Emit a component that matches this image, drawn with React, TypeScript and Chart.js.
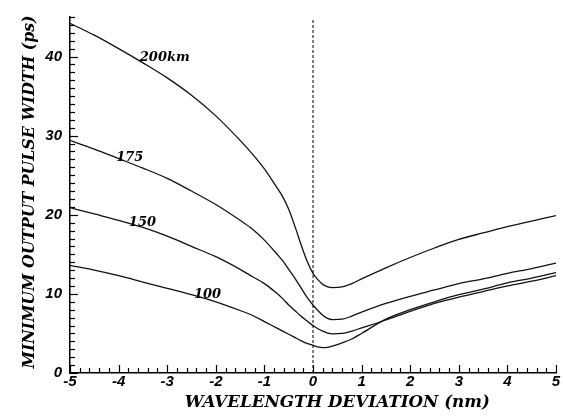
import React, { useEffect, useRef } from "react";
import { Chart, registerables } from "chart.js";

Chart.register(...registerables);

// Wavelength deviation (nm) sample positions shared by all curves
const xGrid = [-5, -4.5, -4, -3.5, -3, -2.5, -2, -1.5, -1.25, -1, -0.75, -0.625, -0.5, -0.375, -0.25, -0.125, 0, 0.1, 0.2, 0.3, 0.4, 0.6, 0.8, 1, 1.5, 2, 2.5, 3, 3.5, 4, 4.5, 5];

// Minimum output pulse width (ps) for each fibre length
const width200 = [44.2, 42.7, 41.0, 39.2, 37.3, 35.1, 32.5, 29.4, 27.7, 25.8, 23.5, 22.3, 20.7, 18.6, 16.3, 14.2, 12.6, 11.8, 11.2, 10.9, 10.8, 10.9, 11.3, 11.9, 13.3, 14.6, 15.8, 16.9, 17.7, 18.5, 19.2, 19.9];
const width175 = [29.4, 28.3, 27.1, 25.9, 24.6, 23.0, 21.3, 19.3, 18.2, 16.8, 15.1, 14.2, 13.1, 12.0, 10.8, 9.6, 8.6, 7.9, 7.3, 6.9, 6.75, 6.8, 7.2, 7.7, 8.8, 9.7, 10.5, 11.3, 11.9, 12.6, 13.2, 13.9];
const width150 = [20.9, 20.1, 19.3, 18.4, 17.3, 16.0, 14.7, 13.1, 12.2, 11.3, 10.1, 9.4, 8.6, 7.9, 7.2, 6.6, 6.0, 5.6, 5.3, 5.05, 4.95, 5.0, 5.3, 5.7, 6.7, 7.8, 8.8, 9.6, 10.3, 11.0, 11.6, 12.3];
const width100 = [13.6, 13.0, 12.3, 11.5, 10.7, 9.9, 9.0, 7.9, 7.3, 6.5, 5.7, 5.3, 4.9, 4.5, 4.1, 3.75, 3.5, 3.3, 3.2, 3.25, 3.4, 3.8, 4.3, 5.0, 6.8, 8.0, 9.0, 9.9, 10.6, 11.4, 12.0, 12.7];

const seriesNames = ["200km", "175", "150", "100"];
const seriesValues = [width200, width175, width150, width100];
// curve label anchor positions (data units)
const labelX = [-3.05, -3.77, -3.51, -2.17];
const labelY = [39.9, 27.2, 19.0, 9.9];

const xTicks = [-5, -4, -3, -2, -1, 0, 1, 2, 3, 4, 5];
const yTicks = [0, 10, 20, 30, 40];
const xTitle = "WAVELENGTH DEVIATION (nm)";
const yTitle = "MINIMUM OUTPUT PULSE WIDTH (ps)";

const decorPlugin = {
  id: "decor",
  afterDatasetsDraw(chart: any) {
    const { ctx, chartArea, scales } = chart;
    const xs = scales.x;
    const ys = scales.y;
    ctx.save();
    ctx.strokeStyle = "#000";
    ctx.fillStyle = "#000";

    // dashed vertical line at zero deviation
    const x0 = xs.getPixelForValue(0);
    ctx.lineWidth = 1;
    ctx.setLineDash([3, 2]);
    ctx.beginPath();
    ctx.moveTo(x0, ys.getPixelForValue(0));
    ctx.lineTo(x0, ys.getPixelForValue(44.7));
    ctx.stroke();
    ctx.setLineDash([]);

    // inward tick marks
    ctx.lineWidth = 1.2;
    const bottom = chartArea.bottom;
    const left = chartArea.left;
    for (let i = -25; i <= 25; i++) {
      const v = i / 5;
      const px = Math.round(xs.getPixelForValue(v)) + 0.5;
      const len = i % 5 === 0 ? 8 : 5;
      ctx.beginPath();
      ctx.moveTo(px, bottom);
      ctx.lineTo(px, bottom - len);
      ctx.stroke();
    }
    for (let v = 0; v <= 45; v++) {
      const py = Math.round(ys.getPixelForValue(v)) + 0.5;
      const len = v % 10 === 0 ? 8 : 5;
      ctx.beginPath();
      ctx.moveTo(left, py);
      ctx.lineTo(left + len, py);
      ctx.stroke();
    }

    // curve labels
    ctx.font = "italic bold 13px 'DejaVu Serif'";
    ctx.textAlign = "center";
    ctx.textBaseline = "middle";
    for (let i = 0; i < seriesNames.length; i++) {
      ctx.fillText(seriesNames[i], xs.getPixelForValue(labelX[i]), ys.getPixelForValue(labelY[i]));
    }

    // axis titles
    ctx.font = "italic bold 17px 'DejaVu Serif'";
    ctx.textAlign = "center";
    ctx.textBaseline = "alphabetic";
    ctx.fillText(xTitle, xs.getPixelForValue(0.5), chart.height - 9, 305);
    ctx.translate(34, (chartArea.top + chartArea.bottom) / 2 - 3);
    ctx.rotate(-Math.PI / 2);
    ctx.fillText(yTitle, 0, 0, 353);
    ctx.restore();
  },
};

export default function App() {
  const canvasRef = useRef<HTMLCanvasElement | null>(null);

  useEffect(() => {
    const canvas = canvasRef.current;
    if (!canvas) return;
    const datasets = seriesNames.map((name, i) => ({
      label: name,
      data: xGrid.map((x, j) => ({ x, y: seriesValues[i][j] })),
      borderColor: "#111",
      borderWidth: 1.3,
      pointRadius: 0,
      fill: false,
      cubicInterpolationMode: "monotone" as const,
    }));
    const tickFont = { family: "'Liberation Sans', Arial, sans-serif", size: 15, style: "italic" as const, weight: "bold" as const };
    const chart = new Chart(canvas, {
      type: "line",
      data: { datasets },
      options: {
        animation: false,
        responsive: false,
        devicePixelRatio: 1,
        layout: { padding: { top: 6, right: 7, left: 0, bottom: 0 } },
        plugins: { legend: { display: false }, tooltip: { enabled: false } },
        scales: {
          x: {
            type: "linear",
            min: -5,
            max: 5,
            grid: { display: false, drawTicks: false },
            border: { display: true, color: "#000", width: 1.5 },
            afterBuildTicks: (s: any) => {
              s.ticks = xTicks.map((v) => ({ value: v }));
            },
            afterFit: (s: any) => {
              s.height = 43;
            },
            ticks: { color: "#000", font: tickFont, padding: 0, autoSkip: false, maxRotation: 0 },
          },
          y: {
            type: "linear",
            min: 0,
            max: 45,
            grid: { display: false, drawTicks: false },
            border: { display: true, color: "#000", width: 1.5 },
            afterBuildTicks: (s: any) => {
              s.ticks = yTicks.map((v) => ({ value: v }));
            },
            afterFit: (s: any) => {
              s.width = 70;
            },
            ticks: { color: "#000", font: tickFont, padding: 8 },
          },
        },
      },
      plugins: [decorPlugin],
    });
    return () => chart.destroy();
  }, []);

  return (
    <div style={{ position: "fixed", left: 0, top: 0, width: 563, height: 416, background: "#fff" }}>
      <canvas ref={canvasRef} width={563} height={416} />
    </div>
  );
}
